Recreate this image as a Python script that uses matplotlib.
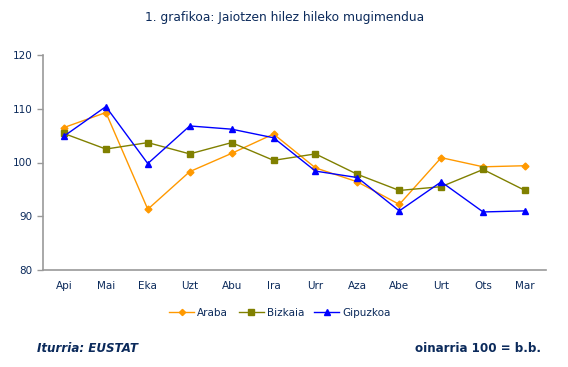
import matplotlib
matplotlib.use('Agg')
import matplotlib.pyplot as plt

# data
months = ['Api', 'Mai', 'Eka', 'Uzt', 'Abu', 'Ira', 'Urr', 'Aza', 'Abe', 'Urt', 'Ots', 'Mar']
araba = [106.5, 109.3, 91.3, 98.3, 101.7, 105.3, 99.0, 96.4, 92.2, 100.9, 99.2, 99.4]
bizkaia = [105.4, 102.5, 103.7, 101.6, 103.7, 100.4, 101.6, 97.8, 94.8, 95.5, 98.7, 94.8]
gipuzkoa = [104.9, 110.4, 99.8, 106.8, 106.2, 104.6, 98.4, 97.2, 91.0, 96.4, 90.8, 91.0]

navy = '#0b2a5b'
fig = plt.figure(figsize=(5.68, 3.67), dpi=100)
ax = fig.add_axes([43/568, 1 - 270/367, (546 - 43)/568, (270 - 55)/367])

x = range(len(months))
ax.plot(x, araba, color='#ff9900', marker='D', markersize=3.5, lw=1, label='Araba')
ax.plot(x, bizkaia, color='#808000', marker='s', markersize=4.5, lw=1, label='Bizkaia')
ax.plot(x, gipuzkoa, color='#0000ff', marker='^', markersize=5, lw=1, label='Gipuzkoa')

ax.set_xlim(-0.5, len(months) - 0.5)
ax.set_ylim(80, 120)
ax.set_yticks([80, 90, 100, 110, 120])
ax.set_xticks(list(x))
ax.set_xticklabels(months)
ax.tick_params(axis='y', colors='#999999', labelcolor=navy, labelsize=7.5, length=4, width=1)
ax.tick_params(axis='x', length=0, labelcolor=navy, labelsize=7.5, pad=8)
for s in ['top', 'right']:
    ax.spines[s].set_visible(False)
for s in ['left', 'bottom']:
    ax.spines[s].set_color('#999999')
    ax.spines[s].set_linewidth(1.2)

fig.text(285/568, 1 - 17/367, '1. grafikoa: Jaiotzen hilez hileko mugimendua',
         ha='center', va='center', fontsize=8.8, color=navy)
fig.legend(loc='center', bbox_to_anchor=(280/568, 1 - 313/367), ncol=3, frameon=False,
           fontsize=7.5, labelcolor=navy, handlelength=2.4, handletextpad=0.3, columnspacing=1.0,
           markerscale=0.9)
fig.text(37/568, 1 - 349/367, 'Iturria: EUSTAT', ha='left', va='center',
         fontsize=8.6, fontweight='bold', fontstyle='italic', color=navy)
fig.text(541/568, 1 - 349/367, 'oinarria 100 = b.b.', ha='right', va='center',
         fontsize=8.6, fontweight='bold', color=navy)

fig.savefig('out.png', dpi=100)
